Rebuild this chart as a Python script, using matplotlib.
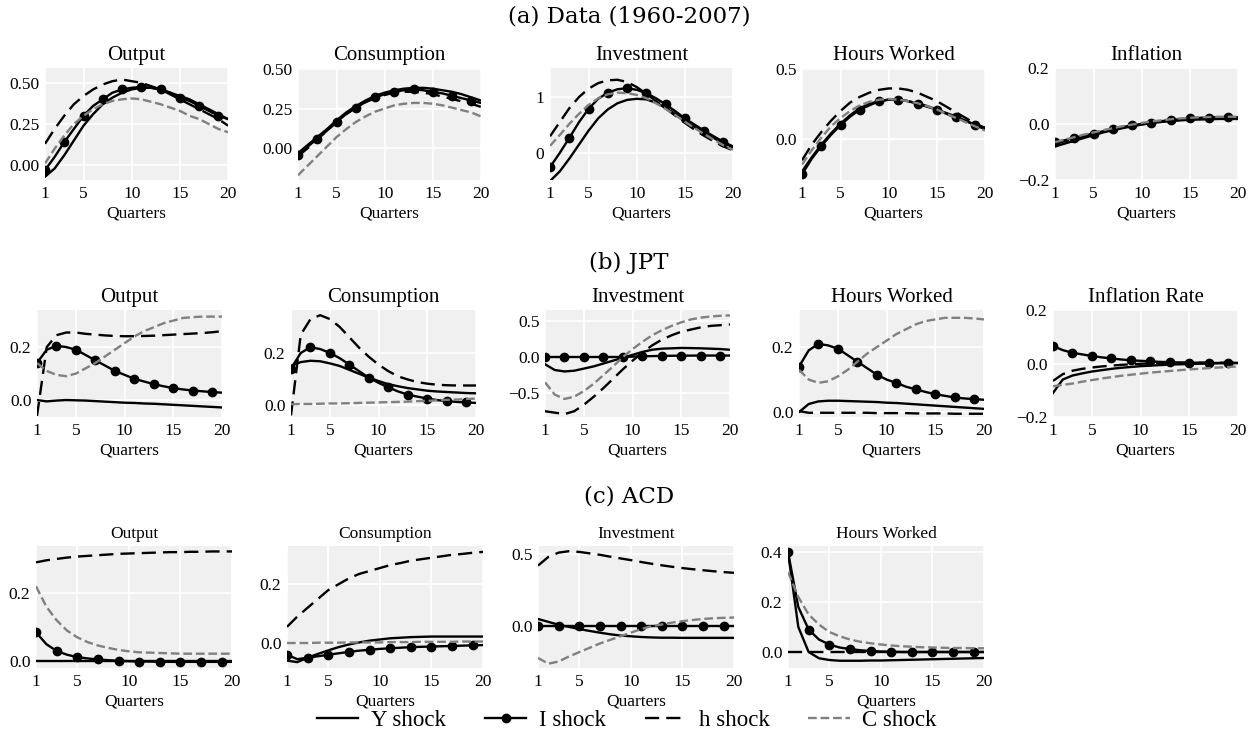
import matplotlib
matplotlib.use("Agg")
import matplotlib.pyplot as plt
import numpy as np

plt.rcParams['font.family'] = ['Liberation Serif', 'DejaVu Serif']
plt.rcParams['axes.unicode_minus'] = True

quarters = list(range(1, 21))
shock_labels = ['Y shock', 'I shock', 'h shock', 'C shock']
section_titles = ['(a) Data (1960-2007)', '(b) JPT', '(c) ACD']

# ---------------- (a) Data (1960-2007) ----------------
a_output_Y = [-0.07, -0.02, 0.06, 0.15, 0.24, 0.31, 0.37, 0.41, 0.44, 0.46, 0.47, 0.47, 0.46, 0.44, 0.42, 0.40, 0.37, 0.34, 0.31, 0.28]
a_output_I = [-0.03, 0.05, 0.14, 0.22, 0.30, 0.36, 0.40, 0.44, 0.46, 0.47, 0.475, 0.47, 0.46, 0.44, 0.41, 0.39, 0.36, 0.33, 0.30, 0.28]
a_output_h = [0.13, 0.22, 0.30, 0.37, 0.42, 0.46, 0.49, 0.51, 0.52, 0.51, 0.50, 0.48, 0.46, 0.43, 0.40, 0.37, 0.34, 0.31, 0.28, 0.24]
a_output_C = [0.01, 0.10, 0.18, 0.25, 0.30, 0.34, 0.37, 0.39, 0.40, 0.405, 0.40, 0.385, 0.37, 0.35, 0.33, 0.30, 0.28, 0.25, 0.22, 0.20]

a_cons_Y = [-0.03, 0.02, 0.07, 0.12, 0.175, 0.225, 0.265, 0.30, 0.33, 0.35, 0.365, 0.375, 0.38, 0.38, 0.375, 0.365, 0.355, 0.34, 0.32, 0.30]
a_cons_I = [-0.04, 0.01, 0.06, 0.11, 0.165, 0.215, 0.255, 0.29, 0.32, 0.34, 0.355, 0.365, 0.37, 0.365, 0.355, 0.345, 0.33, 0.315, 0.30, 0.285]
a_cons_h = [-0.05, 0.0, 0.055, 0.11, 0.165, 0.215, 0.255, 0.29, 0.315, 0.335, 0.35, 0.355, 0.355, 0.35, 0.34, 0.325, 0.31, 0.295, 0.28, 0.26]
a_cons_C = [-0.17, -0.11, -0.05, 0.01, 0.07, 0.12, 0.165, 0.20, 0.23, 0.25, 0.27, 0.28, 0.285, 0.285, 0.28, 0.27, 0.255, 0.24, 0.225, 0.20]

a_inv_Y = [-0.5, -0.33, -0.1, 0.15, 0.4, 0.62, 0.78, 0.89, 0.95, 0.97, 0.96, 0.90, 0.81, 0.70, 0.58, 0.47, 0.37, 0.27, 0.18, 0.10]
a_inv_I = [-0.25, 0.0, 0.27, 0.55, 0.79, 0.97, 1.08, 1.14, 1.16, 1.13, 1.07, 0.98, 0.87, 0.75, 0.62, 0.51, 0.40, 0.30, 0.20, 0.12]
a_inv_h = [0.30, 0.55, 0.80, 1.00, 1.15, 1.25, 1.30, 1.31, 1.27, 1.18, 1.06, 0.93, 0.80, 0.67, 0.54, 0.42, 0.31, 0.21, 0.12, 0.05]
a_inv_C = [0.13, 0.32, 0.52, 0.70, 0.86, 0.98, 1.05, 1.08, 1.07, 1.04, 0.98, 0.89, 0.79, 0.68, 0.56, 0.45, 0.34, 0.24, 0.14, 0.06]

a_hours_Y = [-0.23, -0.13, -0.04, 0.04, 0.11, 0.17, 0.22, 0.25, 0.27, 0.28, 0.28, 0.27, 0.255, 0.235, 0.21, 0.18, 0.15, 0.13, 0.10, 0.08]
a_hours_I = [-0.25, -0.14, -0.05, 0.03, 0.10, 0.16, 0.21, 0.24, 0.27, 0.28, 0.28, 0.27, 0.25, 0.23, 0.21, 0.185, 0.16, 0.13, 0.10, 0.07]
a_hours_h = [-0.15, -0.04, 0.05, 0.13, 0.20, 0.26, 0.30, 0.33, 0.35, 0.36, 0.36, 0.35, 0.33, 0.30, 0.27, 0.23, 0.19, 0.15, 0.11, 0.08]
a_hours_C = [-0.18, -0.08, 0.01, 0.09, 0.15, 0.20, 0.24, 0.265, 0.28, 0.285, 0.28, 0.27, 0.255, 0.235, 0.21, 0.18, 0.15, 0.12, 0.09, 0.06]

a_infl_Y = [-0.08, -0.07, -0.06, -0.05, -0.04, -0.03, -0.022, -0.015, -0.008, -0.002, 0.003, 0.007, 0.01, 0.013, 0.015, 0.016, 0.017, 0.018, 0.018, 0.018]
a_infl_I = [-0.065, -0.058, -0.05, -0.042, -0.034, -0.026, -0.018, -0.011, -0.005, 0.0, 0.005, 0.01, 0.014, 0.017, 0.02, 0.022, 0.023, 0.024, 0.024, 0.024]
a_infl_h = [-0.07, -0.062, -0.054, -0.045, -0.036, -0.028, -0.02, -0.013, -0.007, -0.001, 0.004, 0.009, 0.013, 0.016, 0.019, 0.021, 0.022, 0.023, 0.023, 0.023]
a_infl_C = [-0.065, -0.056, -0.047, -0.038, -0.03, -0.022, -0.015, -0.008, -0.002, 0.004, 0.009, 0.013, 0.017, 0.02, 0.022, 0.024, 0.025, 0.026, 0.026, 0.026]

# ---------------- (b) JPT ----------------
b_output_Y = [0.0, -0.005, -0.002, 0.0, -0.001, -0.002, -0.004, -0.006, -0.008, -0.01, -0.011, -0.013, -0.014, -0.016, -0.018, -0.02, -0.022, -0.024, -0.026, -0.028]
b_output_I = [0.14, 0.19, 0.205, 0.20, 0.19, 0.17, 0.15, 0.13, 0.11, 0.095, 0.08, 0.07, 0.06, 0.052, 0.045, 0.04, 0.036, 0.033, 0.03, 0.028]
b_output_h = [-0.06, 0.20, 0.245, 0.255, 0.255, 0.25, 0.247, 0.244, 0.242, 0.241, 0.241, 0.242, 0.243, 0.245, 0.247, 0.249, 0.251, 0.253, 0.256, 0.26]
b_output_C = [0.14, 0.11, 0.095, 0.09, 0.10, 0.12, 0.14, 0.165, 0.19, 0.215, 0.24, 0.26, 0.275, 0.29, 0.30, 0.31, 0.313, 0.315, 0.315, 0.315]

b_cons_Y = [0.15, 0.165, 0.17, 0.168, 0.16, 0.15, 0.135, 0.12, 0.105, 0.092, 0.08, 0.072, 0.065, 0.06, 0.055, 0.052, 0.05, 0.048, 0.046, 0.045]
b_cons_I = [0.14, 0.20, 0.222, 0.215, 0.20, 0.18, 0.155, 0.13, 0.105, 0.085, 0.068, 0.052, 0.04, 0.032, 0.025, 0.019, 0.015, 0.012, 0.01, 0.008]
b_cons_h = [-0.04, 0.27, 0.33, 0.345, 0.33, 0.30, 0.26, 0.22, 0.185, 0.155, 0.13, 0.11, 0.098, 0.088, 0.082, 0.078, 0.076, 0.075, 0.075, 0.075]
b_cons_C = [0.003, 0.004, 0.004, 0.005, 0.006, 0.006, 0.007, 0.008, 0.009, 0.01, 0.011, 0.012, 0.013, 0.015, 0.016, 0.018, 0.02, 0.021, 0.023, 0.025]

b_inv_Y = [-0.1, -0.18, -0.2, -0.19, -0.16, -0.13, -0.09, -0.05, -0.01, 0.03, 0.07, 0.10, 0.115, 0.12, 0.125, 0.123, 0.12, 0.115, 0.11, 0.10]
b_inv_I = [0.0, 0.0, 0.0, 0.0, 0.0, 0.0, 0.0, 0.0, 0.0, 0.005, 0.01, 0.012, 0.015, 0.017, 0.018, 0.019, 0.02, 0.02, 0.02, 0.02]
b_inv_h = [-0.75, -0.77, -0.79, -0.75, -0.66, -0.55, -0.43, -0.30, -0.17, -0.05, 0.06, 0.16, 0.24, 0.30, 0.35, 0.38, 0.41, 0.43, 0.44, 0.45]
b_inv_C = [-0.35, -0.52, -0.58, -0.55, -0.47, -0.37, -0.25, -0.13, 0.0, 0.11, 0.21, 0.30, 0.37, 0.43, 0.48, 0.52, 0.545, 0.56, 0.57, 0.575]

b_hours_Y = [0.0, 0.025, 0.033, 0.035, 0.035, 0.034, 0.033, 0.032, 0.031, 0.029, 0.028, 0.026, 0.024, 0.022, 0.02, 0.018, 0.016, 0.014, 0.012, 0.01]
b_hours_I = [0.14, 0.19, 0.21, 0.205, 0.195, 0.175, 0.155, 0.135, 0.115, 0.10, 0.09, 0.078, 0.07, 0.062, 0.055, 0.05, 0.045, 0.042, 0.04, 0.038]
b_hours_h = [0.003, -0.002, -0.002, -0.002, -0.002, -0.002, -0.002, -0.002, -0.003, -0.003, -0.003, -0.003, -0.004, -0.004, -0.004, -0.004, -0.005, -0.005, -0.005, -0.005]
b_hours_C = [0.13, 0.10, 0.09, 0.095, 0.11, 0.13, 0.155, 0.18, 0.20, 0.22, 0.24, 0.255, 0.27, 0.28, 0.285, 0.29, 0.29, 0.29, 0.288, 0.285]

b_infl_Y = [-0.11, -0.06, -0.045, -0.037, -0.03, -0.025, -0.02, -0.016, -0.013, -0.01, -0.008, -0.006, -0.004, -0.003, -0.002, -0.001, 0.0, 0.001, 0.001, 0.002]
b_infl_I = [0.065, 0.05, 0.04, 0.034, 0.028, 0.023, 0.019, 0.015, 0.012, 0.01, 0.008, 0.006, 0.005, 0.004, 0.003, 0.003, 0.002, 0.002, 0.002, 0.002]
b_infl_h = [-0.065, -0.04, -0.027, -0.02, -0.015, -0.011, -0.008, -0.005, -0.003, -0.001, 0.0, 0.001, 0.002, 0.002, 0.003, 0.003, 0.003, 0.003, 0.003, 0.003]
b_infl_C = [-0.085, -0.08, -0.075, -0.068, -0.062, -0.056, -0.051, -0.046, -0.042, -0.038, -0.034, -0.031, -0.028, -0.025, -0.022, -0.02, -0.017, -0.015, -0.013, -0.011]

# ---------------- (c) ACD ----------------
c_output_Y = [0.0] * 20
c_output_I = [0.085, 0.05, 0.03, 0.019, 0.012, 0.008, 0.005, 0.003, 0.001, 0.0, -0.001, -0.001, -0.002, -0.002, -0.002, -0.002, -0.002, -0.002, -0.002, -0.002]
c_output_h = [0.29, 0.296, 0.30, 0.304, 0.307, 0.309, 0.311, 0.313, 0.315, 0.316, 0.317, 0.318, 0.319, 0.32, 0.32, 0.321, 0.321, 0.322, 0.322, 0.322]
c_output_C = [0.22, 0.16, 0.12, 0.09, 0.07, 0.056, 0.046, 0.039, 0.033, 0.029, 0.026, 0.025, 0.024, 0.023, 0.022, 0.022, 0.022, 0.022, 0.022, 0.022]

c_cons_Y = [-0.06, -0.065, -0.05, -0.037, -0.025, -0.014, -0.005, 0.002, 0.008, 0.012, 0.016, 0.018, 0.02, 0.021, 0.022, 0.022, 0.022, 0.022, 0.022, 0.022]
c_cons_I = [-0.04, -0.055, -0.05, -0.045, -0.04, -0.035, -0.03, -0.026, -0.023, -0.02, -0.018, -0.016, -0.014, -0.013, -0.012, -0.011, -0.01, -0.009, -0.008, -0.007]
c_cons_h = [0.055, 0.09, 0.12, 0.15, 0.18, 0.20, 0.22, 0.235, 0.245, 0.255, 0.265, 0.272, 0.28, 0.285, 0.29, 0.295, 0.3, 0.303, 0.307, 0.31]
c_cons_C = [0.0, 0.0, 0.0, 0.001, 0.001, 0.001, 0.002, 0.002, 0.002, 0.002, 0.003, 0.003, 0.003, 0.004, 0.004, 0.004, 0.004, 0.005, 0.005, 0.005]

c_inv_Y = [0.05, 0.03, 0.01, -0.005, -0.02, -0.033, -0.045, -0.056, -0.065, -0.07, -0.075, -0.078, -0.08, -0.08, -0.081, -0.081, -0.081, -0.081, -0.081, -0.081]
c_inv_I = [0.0] * 20
c_inv_h = [0.42, 0.48, 0.51, 0.52, 0.515, 0.505, 0.495, 0.482, 0.47, 0.458, 0.445, 0.433, 0.422, 0.412, 0.403, 0.395, 0.388, 0.381, 0.375, 0.37]
c_inv_C = [-0.22, -0.26, -0.245, -0.21, -0.18, -0.15, -0.12, -0.095, -0.07, -0.045, -0.02, 0.0, 0.012, 0.025, 0.035, 0.043, 0.05, 0.055, 0.058, 0.06]

c_hours_Y = [0.40, 0.10, 0.0, -0.025, -0.032, -0.035, -0.035, -0.035, -0.034, -0.034, -0.033, -0.032, -0.031, -0.03, -0.029, -0.028, -0.027, -0.026, -0.025, -0.024]
c_hours_I = [0.40, 0.18, 0.09, 0.05, 0.03, 0.018, 0.012, 0.007, 0.004, 0.002, 0.001, 0.0, 0.0, 0.0, 0.0, 0.0, 0.0, 0.0, 0.0, 0.0]
c_hours_h = [0.0] * 20
c_hours_C = [0.32, 0.22, 0.15, 0.11, 0.08, 0.063, 0.05, 0.041, 0.035, 0.03, 0.026, 0.023, 0.021, 0.019, 0.018, 0.017, 0.016, 0.016, 0.015, 0.015]

titles_a = ['Output', 'Consumption', 'Investment', 'Hours Worked', 'Inflation']
titles_b = ['Output', 'Consumption', 'Investment', 'Hours Worked', 'Inflation Rate']
titles_c = ['Output', 'Consumption', 'Investment', 'Hours Worked']

W, H = 1259, 738
fig = plt.figure(figsize=(W / 100, H / 100), dpi=100)


def pix_axes(left, top, width, height):
    return fig.add_axes([left / W, 1 - (top + height) / H, width / W, height / H])


def style(ax):
    ax.set_facecolor('#f0f0f0')
    for s in ax.spines.values():
        s.set_visible(False)
    ax.grid(True, color='white', linewidth=1.2)
    ax.set_axisbelow(True)
    ax.tick_params(length=0, labelsize=12.5, pad=4)
    ax.set_xlim(1, 20)
    ax.set_xticks([1, 5, 10, 15, 20])


def draw(ax, Y, I, h, C):
    ax.plot(quarters, Y, color='black', lw=1.7, label=shock_labels[0])
    ax.plot(quarters, I, color='black', lw=1.7, marker='o', markersize=6,
            markevery=2, label=shock_labels[1])
    ax.plot(quarters, h, color='black', lw=1.7, dashes=(6, 3), label=shock_labels[2])
    ax.plot(quarters, C, color='gray', lw=1.7, linestyle='--', label=shock_labels[3])


rows = [
    dict(top=68, height=112, lefts=[45, 298, 550, 802, 1055], width=183,
         titles=titles_a, tsize=15,
         data=[(a_output_Y, a_output_I, a_output_h, a_output_C),
               (a_cons_Y, a_cons_I, a_cons_h, a_cons_C),
               (a_inv_Y, a_inv_I, a_inv_h, a_inv_C),
               (a_hours_Y, a_hours_I, a_hours_h, a_hours_C),
               (a_infl_Y, a_infl_I, a_infl_h, a_infl_C)],
         ylims=[(-0.09, 0.59), (-0.2, 0.505), (-0.48, 1.52), (-0.29, 0.505), (-0.2, 0.2)],
         yticks=[[0, 0.25, 0.5], [0, 0.25, 0.5], [0, 1], [0, 0.5], [-0.2, 0, 0.2]]),
    dict(top=310, height=107, lefts=[37, 291, 545, 799, 1053], width=185,
         titles=titles_b, tsize=15,
         data=[(b_output_Y, b_output_I, b_output_h, b_output_C),
               (b_cons_Y, b_cons_I, b_cons_h, b_cons_C),
               (b_inv_Y, b_inv_I, b_inv_h, b_inv_C),
               (b_hours_Y, b_hours_I, b_hours_h, b_hours_C),
               (b_infl_Y, b_infl_I, b_infl_h, b_infl_C)],
         ylims=[(-0.064, 0.34), (-0.046, 0.365), (-0.83, 0.65), (-0.015, 0.314), (-0.2, 0.2)],
         yticks=[[0, 0.2], [0, 0.2], [-0.5, 0, 0.5], [0, 0.2], [-0.2, 0, 0.2]]),
    dict(top=546, height=122, lefts=[36, 287, 538, 788], width=196,
         titles=titles_c, tsize=12.5,
         data=[(c_output_Y, c_output_I, c_output_h, c_output_C),
               (c_cons_Y, c_cons_I, c_cons_h, c_cons_C),
               (c_inv_Y, c_inv_I, c_inv_h, c_inv_C),
               (c_hours_Y, c_hours_I, c_hours_h, c_hours_C)],
         ylims=[(-0.02, 0.338), (-0.085, 0.33), (-0.29, 0.556), (-0.064, 0.424)],
         yticks=[[0, 0.2], [0, 0.2], [0, 0.5], [0, 0.2, 0.4]]),
]

for row in rows:
    for i, left in enumerate(row['lefts']):
        ax = pix_axes(left, row['top'], row['width'], row['height'])
        style(ax)
        draw(ax, *row['data'][i])
        ax.set_ylim(*row['ylims'][i])
        ax.set_yticks(row['yticks'][i])
        ax.set_title(row['titles'][i], fontsize=row['tsize'], pad=6)
        ax.set_xlabel('Quarters', fontsize=12.5, labelpad=3)
        last_ax = ax

for txt, y in zip(section_titles, [16, 263, 496]):
    fig.text(629 / W, 1 - y / H, txt, ha='center', va='center',
             fontsize=16.5, family=['DejaVu Serif'])

handles, labels = last_ax.get_legend_handles_labels()
fig.legend(handles, labels, loc='center', bbox_to_anchor=(627 / W, 1 - 720 / H),
           ncol=4, frameon=False, fontsize=16.5, handlelength=1.8,
           handletextpad=0.55, columnspacing=1.7, borderpad=0)

fig.savefig('out.png', dpi=100)
